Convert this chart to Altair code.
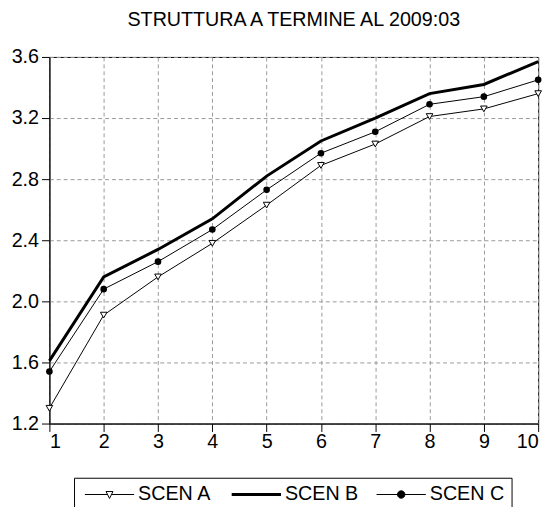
import altair as alt
import pandas as pd

# ---- data ----
maturity = [1, 2, 3, 4, 5, 6, 7, 8, 9, 10]
scen_a = [1.30, 1.91, 2.16, 2.38, 2.63, 2.89, 3.03, 3.21, 3.26, 3.36]
scen_b = [1.61, 2.16, 2.34, 2.54, 2.82, 3.05, 3.20, 3.36, 3.42, 3.57]
scen_c = [1.54, 2.08, 2.26, 2.47, 2.73, 2.97, 3.11, 3.29, 3.34, 3.45]
series_names = ["SCEN A", "SCEN B", "SCEN C"]
y_ticks = [1.2, 1.6, 2.0, 2.4, 2.8, 3.2, 3.6]
title_text = "STRUTTURA A TERMINE AL 2009:03"

rows = []
for name, vals in zip(series_names, [scen_a, scen_b, scen_c]):
    for m, v in zip(maturity, vals):
        rows.append({"maturity": m, "value": v, "series": name})
df = pd.DataFrame(rows)

FONT = "Liberation Sans"

# legend symbols (custom paths: line + marker), unit = 5px with symbolSize 100
path_a = "M-5,0H-0.4M0.4,0H5M-0.7,-0.6L0.7,-0.6L0,0.8Z"
path_b = "M-5,0H5"
path_c = "M-5,0H5M0.75,0A0.75,0.75 0 1 1 -0.75,0A0.75,0.75 0 1 1 0.75,0Z"

leg = alt.Legend(
    title=None,
    orient="none",
    legendX=25,
    legendY=427,
    direction="horizontal",
    strokeColor="black",
    fillColor="white",
    padding=7,
    labelFont=FONT,
    labelFontSize=20,
    labelColor="black",
    symbolSize=100,
    symbolOffset=19,
    labelOffset=19,
    columnPadding=14,
    symbolStrokeColor="black",
)

base = alt.Chart(df).encode(
    x=alt.X(
        "maturity:Q",
        scale=alt.Scale(domain=[1, 10], nice=False, zero=False),
        axis=alt.Axis(values=maturity, format="d", title=None, labelPadding=0),
    ),
    y=alt.Y(
        "value:Q",
        scale=alt.Scale(domain=[1.2, 3.6], nice=False, zero=False),
        axis=alt.Axis(values=y_ticks, format=".1f", title=None, labelPadding=3),
    ),
)

lines_thin = base.transform_filter(alt.datum.series != "SCEN B").mark_line(
    color="black", strokeWidth=1
).encode(detail="series:N")
line_b = base.transform_filter(alt.datum.series == "SCEN B").mark_line(
    color="black", strokeWidth=3
)

pts_a = base.transform_filter(alt.datum.series == "SCEN A").mark_point(
    shape="triangle-down", filled=True, fill="white", stroke="black",
    strokeWidth=1, size=45, opacity=1,
)
pts_c = base.transform_filter(alt.datum.series == "SCEN C").mark_point(
    shape="circle", filled=True, color="black", size=45, opacity=1,
)

legend_layer = base.transform_filter("false").mark_point(
    filled=True, stroke="black", opacity=1
).encode(
    shape=alt.Shape("series:N", scale=alt.Scale(domain=series_names, range=[path_a, path_b, path_c]), legend=leg),
    strokeWidth=alt.StrokeWidth("series:N", scale=alt.Scale(type="ordinal", domain=series_names, range=[1, 3, 1]), legend=leg),
    fill=alt.Fill("series:N", scale=alt.Scale(domain=series_names, range=["white", "black", "black"]), legend=leg),
    stroke=alt.Stroke("series:N", scale=alt.Scale(domain=series_names, range=["black", "black", "black"]), legend=leg),
)

chart = (
    alt.layer(lines_thin, line_b, pts_a, pts_c, legend_layer)
    .properties(
        width=496,
        height=372,
        title=alt.Title(title_text, font=FONT, fontSize=20, fontWeight="normal",
                        color="black", anchor="middle", offset=17),
        padding={"left": 42, "top": 46, "right": 12, "bottom": 81},
        autosize=alt.AutoSizeParams(type="none"),
    )
    .configure_view(stroke="black", strokeWidth=1)
    .configure_axis(
        labelFont=FONT, labelFontSize=20, labelColor="black",
        domainColor="black", tickColor="black", tickSize=8,
        grid=True, gridColor="#999999", gridDash=[4, 3], gridWidth=1,
    )
)

chart.save("out.html", embed_options={"renderer": "svg", "actions": False})
